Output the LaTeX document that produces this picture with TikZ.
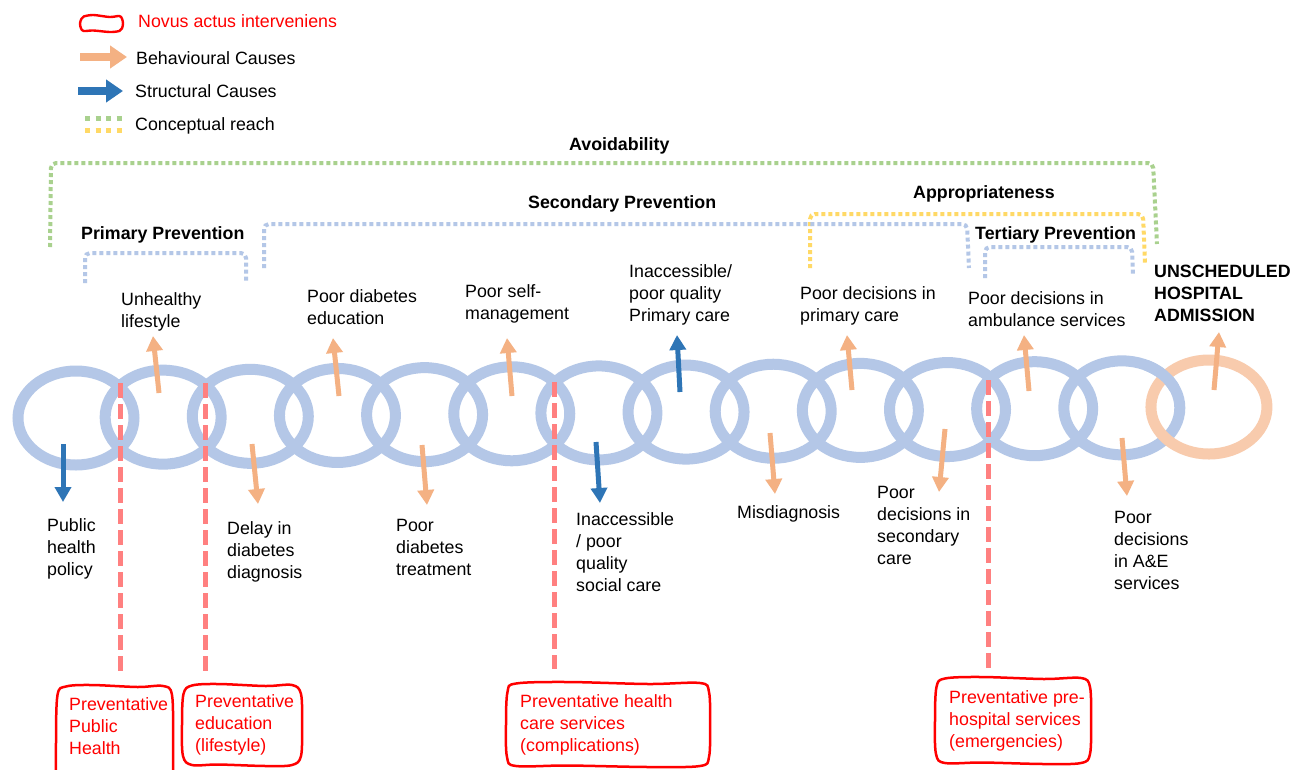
\documentclass[tikz,border=0pt]{standalone}
\usepackage{fontspec}
\setmainfont{Liberation Sans}
\usetikzlibrary{arrows.meta,shapes.geometric}
\definecolor{ringblue}{HTML}{B4C7E7}
\definecolor{ringorange}{HTML}{F8CBAD}
\definecolor{behav}{HTML}{F4B183}
\definecolor{struct}{HTML}{2E75B6}
\definecolor{novus}{HTML}{FF8080}
\definecolor{reachgreen}{HTML}{A9D18E}
\definecolor{reachyellow}{HTML}{FFD966}
\definecolor{reachblue}{HTML}{B4C7E7}
\tikzset{
  ring/.style={ellipse, draw=ringblue, line width=11pt, minimum width=116pt, minimum height=94pt, inner sep=0pt},
  carrow/.style={line width=5pt, -{Triangle[width=16pt,length=15pt]}},
  behavarrow/.style={carrow, draw=behav},
  structarrow/.style={carrow, draw=struct},
  legarrow/.style={line width=8pt, -{Triangle[width=22pt,length=17pt]}},
  novusline/.style={draw=novus, line width=5pt, dash pattern=on 15pt off 6pt},
  reach/.style={line width=4pt, dash pattern=on 4pt off 3pt, rounded corners=5pt},
  lbl/.style={font=\fontsize{17.8}{22}\selectfont, align=left, inner sep=0pt, anchor=base west},
  hdr/.style={lbl, font=\bfseries\fontsize{17.8}{22}\selectfont},
  redtext/.style={lbl, text=red},
  redbox/.style={draw=red, line width=2.5pt},
}
% hand-drawn looking box: \handbox[style]{x1}{y1}{x2}{y2}
\newcommand{\handbox}[5][]{%
  \pgfmathsetmacro\hbw{#4-#2}%
  \pgfmathsetmacro\hbh{#5-#3}%
  \pgfmathsetmacro\hbi{min(9,0.18*\hbh)}%
  \draw[redbox,#1] plot[smooth cycle, tension=0.55] coordinates {
    ({#2+\hbi},{#3+0.5}) ({#2+0.3*\hbw},{#3-1}) ({#2+0.7*\hbw},{#3+1}) ({#4-\hbi},{#3})
    ({#4},{#3+\hbi}) ({#4+1},{#3+0.5*\hbh}) ({#4},{#5-\hbi})
    ({#4-\hbi},{#5}) ({#2+0.7*\hbw},{#5+1}) ({#2+0.3*\hbw},{#5-0.5}) ({#2+\hbi},{#5})
    ({#2},{#5-\hbi}) ({#2-1},{#3+0.5*\hbh}) ({#2+0.5},{#3+\hbi})
  };%
}
\begin{document}
\begin{tikzpicture}[x=1pt,y=-1pt]
\useasboundingbox (0,0) rectangle (1293,769);
\fill[white] (0,0) rectangle (1293,769);

% ---------- legend ----------
\handbox[line width=2.4pt]{81}{16}{122}{31}
\node[lbl, text=red] (legnovus) at (138,27) {Novus actus interveniens};
\coordinate (lb1) at (80,57); \coordinate (lb2) at (127,57);
\draw[legarrow, draw=behav] (lb1) -- (lb2);
\node[lbl] (legbehav) at (136,64) {Behavioural Causes};
\coordinate (ls1) at (78,91); \coordinate (ls2) at (123,91);
\draw[legarrow, draw=struct] (ls1) -- (ls2);
\node[lbl] (legstruct) at (135,97) {Structural Causes};
\draw[draw=reachgreen, line width=5pt, dash pattern=on 5pt off 5.5pt] (85,118) -- (122,118);
\draw[draw=reachyellow, line width=5pt, dash pattern=on 5pt off 5.5pt] (85,130) -- (122,130);
\node[lbl] (legreach) at (135,130) {Conceptual reach};

% ---------- conceptual reach brackets ----------
\draw[reach, draw=reachgreen] (50,247) -- (51,163) -- (1153,163) -- (1157,244);
\draw[reach, draw=reachblue] (85,283) -- (85,253) -- (246,253) -- (246,283);
\draw[reach, draw=reachyellow] (810,268) -- (810,214) -- (1143,214) -- (1145,264);
\draw[reach, draw=reachblue] (264,268) -- (264,224) -- (967,224) -- (969,268);
\draw[reach, draw=reachblue] (985,278) -- (985,247) -- (1132,247) -- (1133,274);

\node[hdr] (havoid) at (569,150) {Avoidability};
\node[hdr] (hprim) at (81,239) {Primary Prevention};
\node[hdr] (hsec) at (528,208) {Secondary Prevention};
\node[hdr] (happr) at (913,198) {Appropriateness};
\node[hdr] (hter) at (975,239) {Tertiary Prevention};

% ---------- chain ----------
\foreach \i in {1,...,13} {
  \node[ring] (r\i) at ({76+87.15*(\i-1)},{418-0.846*(\i-1)}) {};
}
\node[ring, draw=ringorange] (r14) at ({76+87.15*13},{418-0.846*13}) {};
\draw[draw=ringblue, line width=11pt] (r13.center) ++(25:58pt and 47pt) arc[start angle=25, end angle=65, x radius=58pt, y radius=47pt];

% ---------- novus actus lines ----------
\coordinate (n1a) at (120,383); \coordinate (n1b) at (120,675);
\coordinate (n2a) at (205,383); \coordinate (n2b) at (205,675);
\coordinate (n3a) at (554,382); \coordinate (n3b) at (554,669);
\coordinate (n4a) at (988,380); \coordinate (n4b) at (988,668);
\draw[novusline] (n1a) -- (n1b);
\draw[novusline] (n2a) -- (n2b);
\draw[novusline] (n3a) -- (n3b);
\draw[novusline] (n4a) -- (n4b);

% ---------- cause arrows ----------
\coordinate (a1s) at (63,444);   \coordinate (a1e) at (63,502);
\coordinate (a2s) at (159,393);  \coordinate (a2e) at (153,336);
\coordinate (a3s) at (252,444);  \coordinate (a3e) at (258,504);
\coordinate (a4s) at (339,396);  \coordinate (a4e) at (333,338);
\coordinate (a5s) at (422,445);  \coordinate (a5e) at (427,505);
\coordinate (a6s) at (512,396);  \coordinate (a6e) at (507,338);
\coordinate (a7s) at (596,442);  \coordinate (a7e) at (600,503);
\coordinate (a8s) at (680,392);  \coordinate (a8e) at (677,335);
\coordinate (a9s) at (770,433);  \coordinate (a9e) at (775,494);
\coordinate (a10s) at (852,390); \coordinate (a10e) at (847,335);
\coordinate (a11s) at (945,429); \coordinate (a11e) at (939,492);
\coordinate (a12s) at (1029,391);\coordinate (a12e) at (1024,335);
\coordinate (a13s) at (1122,438);\coordinate (a13e) at (1127,496);
\coordinate (a14s) at (1214,390);\coordinate (a14e) at (1219,332);
\draw[structarrow] (a1s) -- (a1e);
\draw[behavarrow] (a2s) -- (a2e);
\draw[behavarrow] (a3s) -- (a3e);
\draw[behavarrow] (a4s) -- (a4e);
\draw[behavarrow] (a5s) -- (a5e);
\draw[behavarrow] (a6s) -- (a6e);
\draw[structarrow] (a7s) -- (a7e);
\draw[structarrow] (a8s) -- (a8e);
\draw[behavarrow] (a9s) -- (a9e);
\draw[behavarrow] (a10s) -- (a10e);
\draw[behavarrow] (a11s) -- (a11e);
\draw[behavarrow] (a12s) -- (a12e);
\draw[behavarrow] (a13s) -- (a13e);
\draw[behavarrow] (a14s) -- (a14e);

% ---------- labels above (anchor = baseline of last line) ----------
\node[lbl] (t1) at (121,327) {Unhealthy\\lifestyle};
\node[lbl] (t2) at (307,324) {Poor diabetes\\education};
\node[lbl] (t3) at (465,319) {Poor self-\\management};
\node[lbl] (t4) at (629,321) {Inaccessible/\\poor quality\\Primary care};
\node[lbl] (t5) at (800,321) {Poor decisions in\\primary care};
\node[lbl] (t6) at (968,326) {Poor decisions in\\ambulance services};
\node[hdr] (t7) at (1154,321) {UNSCHEDULED\\HOSPITAL\\ADMISSION};

% ---------- labels below ----------
\node[lbl] (b1) at (47,575) {Public\\health\\policy};
\node[lbl] (b2) at (227,578) {Delay in\\diabetes\\diagnosis};
\node[lbl] (b3) at (396,575) {Poor\\diabetes\\treatment};
\node[lbl] (b4) at (576,591) {Inaccessible\\/ poor\\quality\\social care};
\node[lbl] (b5) at (737,518) {Misdiagnosis};
\node[lbl] (b6) at (877,564) {Poor\\decisions in\\secondary\\care};
\node[lbl] (b7) at (1114,589) {Poor\\decisions\\in A\&E\\services};

% ---------- novus actus boxes ----------
\handbox{57}{686}{172}{800}
\node[redtext] (x1) at (69,754) {Preventative\\Public\\Health};
\handbox{183}{685}{301}{765}
\node[redtext] (x2) at (195,751) {Preventative\\education\\(lifestyle)};
\handbox{507}{683}{709}{766}
\node[redtext] (x3) at (520,751) {Preventative health\\care services\\(complications)};
\handbox{936}{678}{1090}{763}
\node[redtext] (x4) at (949,747) {Preventative pre-\\hospital services\\(emergencies)};
\end{tikzpicture}
\end{document}
